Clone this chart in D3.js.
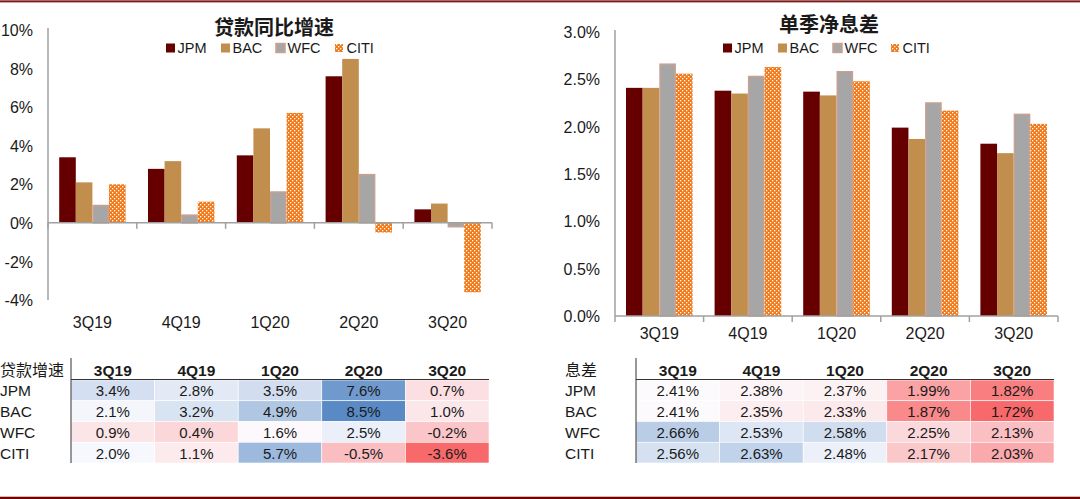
<!DOCTYPE html>
<html><head><meta charset="utf-8">
<script src="https://cdn.jsdelivr.net/npm/d3@7/dist/d3.min.js"></script>
<style>
html,body{margin:0;padding:0;background:#fff;}
svg{display:block;}
text{font-family:"Liberation Sans",Arial,sans-serif;fill:#1a1a1a;}
.cjk{font-family:"Noto Sans CJK SC",sans-serif;}
</style></head>
<body>
<svg id="chart" width="1080" height="499"></svg>
<script>
// ---------- data ----------
const categories = ["3Q19","4Q19","1Q20","2Q20","3Q20"];
const banks = ["JPM","BAC","WFC","CITI"];
const loanJPM  = [3.4, 2.8, 3.5, 7.6, 0.7];
const loanBAC  = [2.1, 3.2, 4.9, 8.5, 1.0];
const loanWFC  = [0.9, 0.4, 1.6, 2.5, -0.2];
const loanCITI = [2.0, 1.1, 5.7, -0.5, -3.6];
const nimJPM  = [2.41, 2.38, 2.37, 1.99, 1.82];
const nimBAC  = [2.41, 2.35, 2.33, 1.87, 1.72];
const nimWFC  = [2.66, 2.53, 2.58, 2.25, 2.13];
const nimCITI = [2.56, 2.63, 2.48, 2.17, 2.03];
const loanTicks = [-4, -2, 0, 2, 4, 6, 8, 10];
const nimTicks = [0, 0.5, 1.0, 1.5, 2.0, 2.5, 3.0];
const loanTitle = "贷款同比增速";
const nimTitle = "单季净息差";
const loanTableLabel = "贷款增速";
const nimTableLabel = "息差";

const loanSeries = [loanJPM, loanBAC, loanWFC, loanCITI];
const nimSeries = [nimJPM, nimBAC, nimWFC, nimCITI];

const hy = s => s.replace("\u2212","-");
const svg = d3.select("#chart");

// ---------- defs / pattern ----------
const defs = svg.append("defs");
const pat = defs.append("pattern").attr("id","citiPat").attr("patternUnits","userSpaceOnUse")
  .attr("width",4).attr("height",4);
pat.append("rect").attr("width",4).attr("height",4).attr("fill","#f07a1a");
pat.append("rect").attr("x",0).attr("y",0).attr("width",1.3).attr("height",1.3).attr("fill","#fff");
pat.append("rect").attr("x",2).attr("y",2).attr("width",1.3).attr("height",1.3).attr("fill","#fff");

const style = {
  JPM: {fill:"#660000", stroke:"none"},
  BAC: {fill:"#c18e4d", stroke:"none"},
  WFC: {fill:"#a6a6a6", stroke:"#c9a091"},
  CITI:{fill:"url(#citiPat)", stroke:"none"}
};

// borders
svg.append("rect").attr("x",0).attr("y",0).attr("width",1080).attr("height",3).attr("fill","#d8b9b9");
svg.append("rect").attr("x",0).attr("y",0.5).attr("width",1080).attr("height",1.6).attr("fill","#7a1a1a");
svg.append("rect").attr("x",0).attr("y",496).attr("width",1080).attr("height",3).attr("fill","#d8b9b9");
svg.append("rect").attr("x",0).attr("y",497).attr("width",1080).attr("height",2).attr("fill","#7a0000");

function drawBarChart(cfg){
  const g = svg.append("g");
  const x = d3.scaleBand().domain(categories).range([cfg.x0, cfg.x1]).padding(0);
  const inner = d3.scaleBand().domain(banks).range([cfg.innerPad, x.bandwidth()-cfg.innerPad]).padding(0);
  const y = d3.scaleLinear().domain(cfg.domain).range([cfg.yBottom, cfg.yTop]);

  // title
  g.append("text").attr("class","cjk").attr("x",cfg.titleX).attr("y",cfg.titleY)
    .attr("text-anchor","middle").attr("dominant-baseline","central")
    .style("font-size","20px").style("font-weight","bold").text(cfg.title);

  // y axis
  const yAxis = d3.axisLeft(y).tickValues(cfg.ticks).tickSize(0).tickPadding(0)
    .tickFormat(cfg.fmt);
  const ya = g.append("g").attr("transform",`translate(${cfg.x0},0)`).call(yAxis);
  ya.select(".domain").remove();
  ya.selectAll("text").attr("x", cfg.labelRight - cfg.x0).attr("dy","0.35em")
    .style("font-size","16px").style("font-family","'Liberation Sans',Arial,sans-serif").attr("fill","#1a1a1a");
  g.append("line").attr("x1",cfg.x0).attr("x2",cfg.x0).attr("y1",cfg.yTop-2).attr("y2",cfg.yBottom)
    .attr("stroke","#a0a0a0").attr("stroke-width",1.5);

  // bars
  banks.forEach((b,i)=>{
    const vals = cfg.series[i];
    const hasStroke = style[b].stroke!=="none";
    g.append("g").selectAll("rect").data(categories).join("rect")
      .attr("x", (c)=> x(c) + inner(b) + (hasStroke?0.75:0))
      .attr("width", inner.bandwidth() - (hasStroke?1.5:0))
      .attr("y", (c,j)=> Math.min(y(vals[j]), y(0)))
      .attr("height", (c,j)=> Math.abs(y(vals[j]) - y(0)))
      .attr("fill", style[b].fill)
      .attr("stroke", style[b].stroke)
      .attr("stroke-width", hasStroke?1.5:0);
  });

  // x axis
  const y0 = y(0);
  g.append("line").attr("x1",cfg.x0).attr("x2",cfg.x1).attr("y1",y0).attr("y2",y0)
    .attr("stroke","#a0a0a0").attr("stroke-width",1.5);
  const bounds = categories.map(c=>x(c)).concat([cfg.x1]);
  g.append("g").selectAll("line").data(bounds).join("line")
    .attr("x1",d=>d).attr("x2",d=>d).attr("y1",y0).attr("y2",y0+6)
    .attr("stroke","#a0a0a0").attr("stroke-width",1.5);
  g.append("g").selectAll("text").data(categories).join("text")
    .attr("x",c=>x(c)+x.bandwidth()/2).attr("y",cfg.catY)
    .attr("text-anchor","middle").attr("dominant-baseline","central")
    .style("font-size","16px").text(c=>c);

  // legend
  const lg = g.append("g");
  banks.forEach((b,i)=>{
    const lx = cfg.legendX[i];
    const sz = b==="CITI"?8:9;
    lg.append("rect").attr("x",lx).attr("y",cfg.legendY-sz/2).attr("width",sz).attr("height",sz)
      .attr("fill",style[b].fill).attr("stroke",style[b].stroke).attr("stroke-width",style[b].stroke!=="none"?1.5:0);
    lg.append("text").attr("x",lx+11.5).attr("y",cfg.legendY).attr("dominant-baseline","central")
      .style("font-size","14.5px").text(b);
  });
}

drawBarChart({
  x0:48, x1:492, yTop:30, yBottom:300, domain:[-4,10], ticks:loanTicks,
  fmt:d=>d+"%", labelRight:33, innerPad:11.2, series:loanSeries,
  title:loanTitle, titleX:274, titleY:26, catY:322,
  legendX:[166,221,276,335], legendY:48
});
drawBarChart({
  x0:615, x1:1058, yTop:32, yBottom:316, domain:[0,3], ticks:nimTicks,
  fmt:d=>d3.format(".1f")(d)+"%", labelRight:600, innerPad:11, series:nimSeries,
  title:nimTitle, titleX:829, titleY:23, catY:333,
  legendX:[723,778,833,891], legendY:48
});

// ---------- heat tables ----------
function drawTable(cfg){
  const g = svg.append("g");
  const cx = d3.scaleBand().domain(categories).range([cfg.x0, cfg.x1]);
  const ry = d3.scaleBand().domain(banks).range([380, 463]);
  const color = d3.scaleLinear().domain(cfg.colorDomain)
    .range(["#f8696b","#fcfcff","#5a8ac6"]).clamp(true);

  banks.forEach((b,i)=>{
    const vals = cfg.series[i];
    g.append("g").selectAll("rect").data(categories).join("rect")
      .attr("x",c=>cx(c)).attr("y",ry(b)).attr("width",cx.bandwidth()).attr("height",ry.bandwidth())
      .attr("fill",(c,j)=>color(vals[j])).attr("stroke","#fff").attr("stroke-width",0.6);
    g.append("g").selectAll("text").data(categories).join("text")
      .attr("x",c=>cx(c)+cx.bandwidth()/2).attr("y",ry(b)+ry.bandwidth()/2+0.5)
      .attr("text-anchor","middle").attr("dominant-baseline","central")
      .style("font-size","15px").text((c,j)=>hy(cfg.fmt(vals[j])));
    g.append("text").attr("x",cfg.labelX).attr("y",ry(b)+ry.bandwidth()/2+0.5)
      .attr("dominant-baseline","central").style("font-size","15.5px").text(b);
  });
  // header
  g.append("g").selectAll("text").data(categories).join("text")
    .attr("x",c=>cx(c)+cx.bandwidth()/2).attr("y",370)
    .attr("text-anchor","middle").attr("dominant-baseline","central")
    .style("font-size","15.5px").style("font-weight","bold").text(c=>c);
  g.append("text").attr("class","cjk").attr("x",cfg.labelX).attr("y",369)
    .attr("dominant-baseline","central").style("font-size","16px").text(cfg.label);
  g.append("line").attr("x1",cfg.x0).attr("x2",cfg.x1).attr("y1",379.5).attr("y2",379.5)
    .attr("stroke","#333").attr("stroke-width",1);
  g.append("line").attr("x1",cfg.x0).attr("x2",cfg.x0).attr("y1",358).attr("y2",463)
    .attr("stroke","#333").attr("stroke-width",1);
}

drawTable({x0:71, x1:489, series:loanSeries, colorDomain:[-3.6,1.75,8.5],
  fmt:d=>d3.format(".1f")(d)+"%", labelX:0, label:loanTableLabel});
drawTable({x0:636, x1:1054, series:nimSeries, colorDomain:[1.72,2.42,3.0],
  fmt:d=>d3.format(".2f")(d)+"%", labelX:565, label:nimTableLabel});
</script>
</body></html>
